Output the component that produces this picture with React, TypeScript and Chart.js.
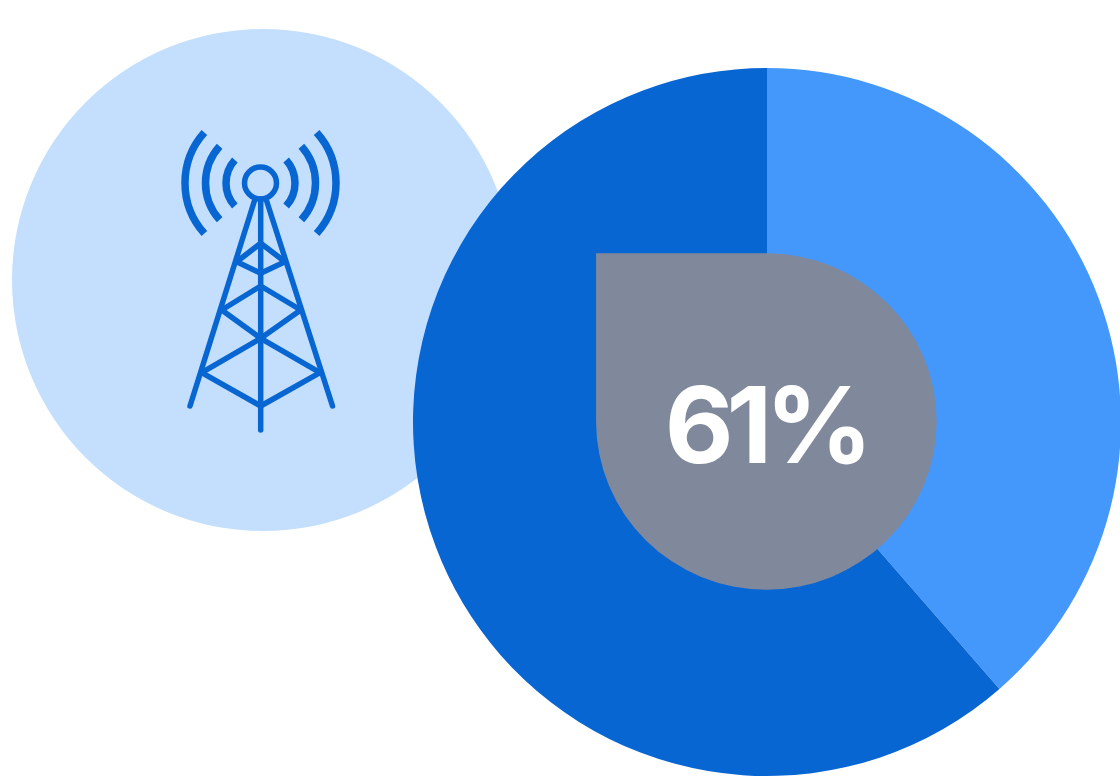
import React, { useEffect, useRef } from "react";
import { Chart, registerables } from "chart.js";

Chart.register(...registerables);

const categories = ["Other", "Share"];
const shareValues = [38.6, 61.4];
const centerLabel = "61%";

const DARK = "#0866d3";
const LIGHT = "#4598fb";
const PALE = "#c4dffe";
const GREY = "#80889b";

const drawDecor = (ctx: CanvasRenderingContext2D) => {
  ctx.save();
  ctx.fillStyle = PALE;
  ctx.beginPath();
  ctx.arc(263, 280, 251, 0, Math.PI * 2);
  ctx.fill();

  ctx.strokeStyle = DARK;
  ctx.lineWidth = 7.5;
  ctx.lineCap = "butt";
  const a = (42 * Math.PI) / 180;
  for (const r of [34.5, 55, 75.5]) {
    ctx.beginPath();
    ctx.arc(260.5, 183, r, -a, a);
    ctx.stroke();
    ctx.beginPath();
    ctx.arc(260.5, 183, r, Math.PI - a, Math.PI + a);
    ctx.stroke();
  }
  ctx.lineWidth = 5.5;
  ctx.lineCap = "round";
  ctx.lineJoin = "round";
  ctx.beginPath();
  ctx.arc(260.5, 183, 16, 0, Math.PI * 2);
  ctx.stroke();
  const paths: number[][] = [
    [255, 199, 190, 406],
    [266, 199, 332.5, 406],
    [260.7, 199, 260.7, 430],
    [201.7, 372.7, 260.7, 406, 320, 372.7],
    [201.7, 372.7, 260.7, 338.3, 320, 372.7],
    [221.7, 310, 260.7, 338.3, 300.7, 310],
    [221.7, 310, 260.7, 286, 300.7, 310],
    [236.7, 261.7, 260.7, 273.3, 285, 261.7],
    [236.7, 261.7, 260.7, 243.3, 285, 261.7],
  ];
  for (const p of paths) {
    ctx.beginPath();
    ctx.moveTo(p[0], p[1]);
    for (let i = 2; i < p.length; i += 2) ctx.lineTo(p[i], p[i + 1]);
    ctx.stroke();
  }
  ctx.restore();
};

const decorPlugin = {
  id: "decor",
  beforeDraw(chart: any) {
    drawDecor(chart.ctx);
  },
  afterDatasetsDraw(chart: any) {
    const arc = chart.getDatasetMeta(0).data[0];
    const { ctx } = chart;
    const cx = arc.x - 0.65;
    const cy = arc.y - 0.5;
    const rx = arc.innerRadius + 3.3;
    const ry = arc.innerRadius + 1.2;
    ctx.save();
    ctx.fillStyle = GREY;
    ctx.beginPath();
    ctx.moveTo(cx, cy - ry);
    ctx.ellipse(cx, cy, rx, ry, 0, -Math.PI / 2, Math.PI);
    ctx.lineTo(cx - rx, cy - ry);
    ctx.closePath();
    ctx.fill();
    ctx.fillStyle = "#ffffff";
    ctx.font = "700 106px Inter, sans-serif";
    (ctx as any).letterSpacing = "-7px";
    ctx.textAlign = "center";
    ctx.textBaseline = "alphabetic";
    ctx.fillText(centerLabel, cx - 1, cy + 41);
    ctx.restore();
  },
};

export default function App() {
  const ref = useRef<HTMLCanvasElement>(null);
  useEffect(() => {
    document.body.style.margin = "0";
    document.body.style.background = "#ffffff";
    const chart = new Chart(ref.current!, {
      type: "doughnut",
      data: {
        labels: categories,
        datasets: [
          {
            data: shareValues,
            backgroundColor: [LIGHT, DARK],
            borderWidth: 0,
          },
        ],
      },
      options: {
        responsive: false,
        animation: false,
        cutout: 167,
        layout: { padding: { left: 413, top: 68, right: 0, bottom: 5 } },
        plugins: { legend: { display: false }, tooltip: { enabled: false } },
      },
      plugins: [decorPlugin],
    });
    return () => chart.destroy();
  }, []);
  return (
    <div style={{ width: 1120, height: 781, overflow: "hidden", position: "relative" }}>
      <canvas ref={ref} width={1121} height={781} style={{ display: "block", width: 1121, height: 781 }} />
    </div>
  );
}
